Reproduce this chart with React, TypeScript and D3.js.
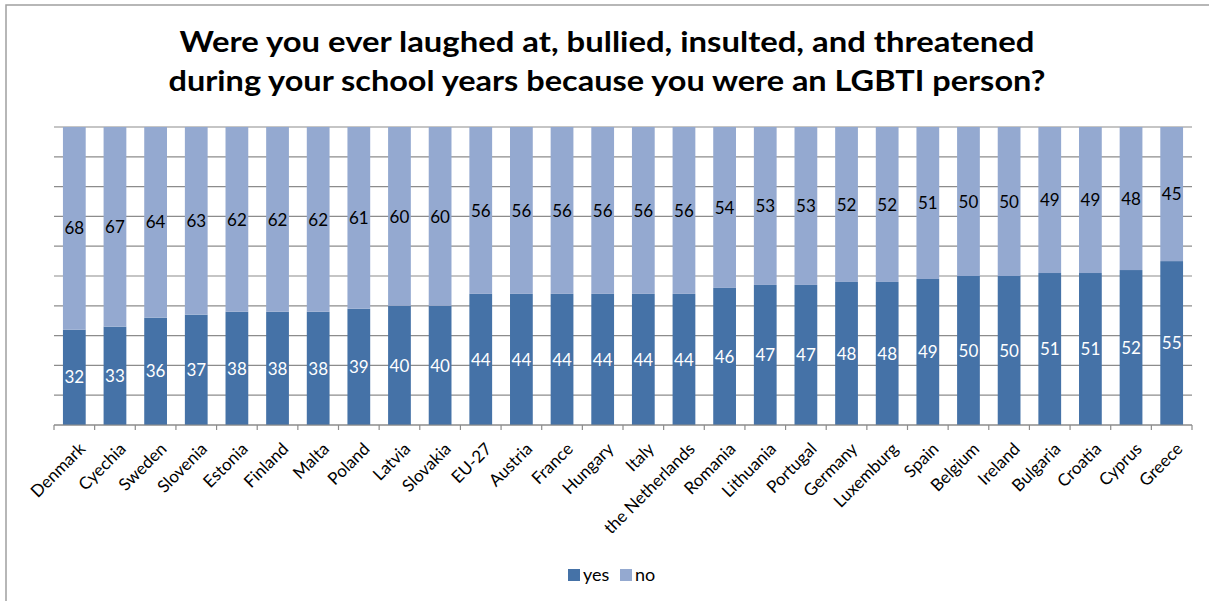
import * as d3 from "d3";

const countries = [
  "Denmark", "Cyechia", "Sweden", "Slovenia", "Estonia", "Finland", "Malta",
  "Poland", "Latvia", "Slovakia", "EU-27", "Austria", "France", "Hungary",
  "Italy", "the Netherlands", "Romania", "Lithuania", "Portugal", "Germany",
  "Luxemburg", "Spain", "Belgium", "Ireland", "Bulgaria", "Croatia", "Cyprus",
  "Greece",
];
const yesValues = [32, 33, 36, 37, 38, 38, 38, 39, 40, 40, 44, 44, 44, 44, 44, 44, 46, 47, 47, 48, 48, 49, 50, 50, 51, 51, 52, 55];
const noValues = [68, 67, 64, 63, 62, 62, 62, 61, 60, 60, 56, 56, 56, 56, 56, 56, 54, 53, 53, 52, 52, 51, 50, 50, 49, 49, 48, 45];
const seriesNames = ["yes", "no"];
const titleLines = [
  "Were you ever laughed at, bullied, insulted, and threatened",
  "during your school years because you were an LGBTI person?",
];

const width = 1209;
const height = 601;
const margin = { top: 127, right: 17, bottom: 176, left: 54 };
const colors: Record<string, string> = { yes: "#4572a7", no: "#94a9d0" };
const font = "Lato, 'Open Sans', sans-serif";

export default function App() {
  const rows = countries.map((c, i) => ({ country: c, yes: yesValues[i], no: noValues[i] }));

  const x = d3
    .scaleBand()
    .domain(countries)
    .range([margin.left, width - margin.right])
    .paddingInner(0.44)
    .paddingOuter(0.22);

  const y = d3
    .scaleLinear()
    .domain([0, 100])
    .range([height - margin.bottom, margin.top]);

  const stacked = d3.stack<any>().keys(seriesNames)(rows);
  const step = x.step();
  const gridTicks = d3.range(0, 101, 10);

  return (
    <svg
      width={width}
      height={height}
      style={{ position: "absolute", left: 0, top: 0, background: "#fff" }}
      fontFamily={font}
    >
      <rect x={6} y={5} width={width + 10} height={height + 10} fill="#fff" stroke="#a0a0a0" strokeWidth={1.5} />

      {/* title */}
      {titleLines.map((t, i) => (
        <text
          key={i}
          x={607}
          y={52 + i * 39}
          textAnchor="middle"
          fontSize={28}
          fontWeight="bold"
          fill="#000"
          textLength={i === 0 ? 855 : 877}
          lengthAdjust="spacingAndGlyphs"
        >
          {t}
        </text>
      ))}

      {/* grid */}
      {gridTicks.map((t) => (
        <line
          key={t}
          x1={margin.left}
          x2={width - margin.right}
          y1={y(t)}
          y2={y(t)}
          stroke="#8c8c8c"
          strokeWidth={1.2}
        />
      ))}

      {/* bars */}
      {stacked.map((s) => (
        <g key={s.key} fill={colors[s.key]}>
          {s.map((d, i) => (
            <rect
              key={i}
              x={x(d.data.country)}
              y={y(d[1])}
              width={x.bandwidth()}
              height={y(d[0]) - y(d[1])}
            />
          ))}
        </g>
      ))}

      {/* value labels */}
      {stacked.map((s) =>
        s.map((d, i) => (
          <text
            key={s.key + i}
            x={(x(d.data.country) as number) + x.bandwidth() / 2}
            y={(y(d[0]) + y(d[1])) / 2}
            dy="0.36em"
            textAnchor="middle"
            fontSize={17}
            fill={s.key === "yes" ? "#fff" : "#000"}
          >
            {d[1] - d[0]}
          </text>
        ))
      )}

      {/* x axis */}
      <line
        x1={margin.left}
        x2={width - margin.right}
        y1={y(0)}
        y2={y(0)}
        stroke="#8c8c8c"
        strokeWidth={1.2}
      />
      {d3.range(countries.length + 1).map((i) => (
        <line
          key={i}
          x1={margin.left + i * step}
          x2={margin.left + i * step}
          y1={y(0)}
          y2={y(0) + 5}
          stroke="#8c8c8c"
          strokeWidth={1.2}
        />
      ))}
      {countries.map((c) => {
        const cx = (x(c) as number) + x.bandwidth() / 2 + 12;
        const cy = y(0) + 25;
        return (
          <text
            key={c}
            transform={`translate(${cx},${cy}) rotate(-45)`}
            textAnchor="end"
            fontSize={17}
            fill="#000"
          >
            {c}
          </text>
        );
      })}

      {/* legend */}
      {seriesNames.map((k, i) => {
        const lx = i === 0 ? 568 : 620;
        return (
          <g key={k} transform={`translate(${lx},569)`}>
            <rect width={12} height={12} fill={colors[k]} />
            <text x={15} y={12} fontSize={18} fill="#000">
              {k}
            </text>
          </g>
        );
      })}
    </svg>
  );
}
